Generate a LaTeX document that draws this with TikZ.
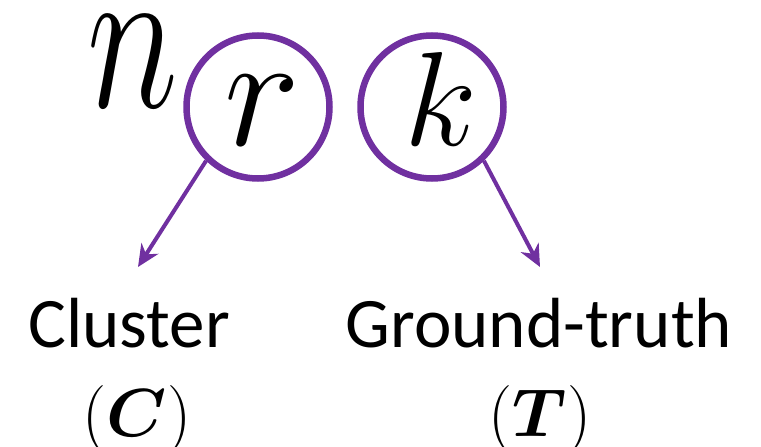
\RequirePackage{fix-cm}
\documentclass[tikz,border=0pt]{standalone}
\usepackage{amsmath}
\usepackage{bm}
\usepackage{fontspec}
\setmainfont{Carlito}
\usetikzlibrary{arrows.meta}
\definecolor{vio}{HTML}{7030A0}
\tikzset{
  ring/.style={circle, draw=vio, line width=6.5pt, minimum size=143pt, inner sep=0pt},
  ptr/.style={draw=vio, line width=4pt, -{Stealth[length=22pt,width=20pt,inset=7pt]}},
  lbl/.style={font=\fontsize{71}{85}\selectfont, inner sep=0pt, anchor=base},
  mlbl/.style={font=\fontsize{68}{80}\selectfont, inner sep=0pt, anchor=base},
}
\begin{document}
\begin{tikzpicture}[x=1pt,y=-1pt]
\useasboundingbox (0,0) rectangle (761,447);
\node[font=\fontsize{213}{213}\selectfont, inner sep=0pt, anchor=base, xscale=0.73] (n) at (133,107) {$n$};
\node[ring] (cr) at (258,107) {};
\node[ring] (ck) at (432,107) {};
\node[font=\fontsize{162}{162}\selectfont, inner sep=0pt, anchor=base] (r) at (262,145) {$r$};
\node[font=\fontsize{134}{134}\selectfont, inner sep=0pt, anchor=base] (k) at (441,145) {$k$};
\node[lbl] (cluster) at (129,347) {Cluster};
\node[mlbl] (cC) at (137,436) {$(\bm{C})$};
\node[lbl] (gt) at (539,347) {Ground-truth};
\node[mlbl] (cT) at (540,436) {$(\bm{T})$};
\coordinate (tipC) at (138,267);
\coordinate (tipT) at (540,267);
\draw[ptr] (cr.226) -- (tipC);
\draw[ptr] (ck.314) -- (tipT);
\end{tikzpicture}
\end{document}
